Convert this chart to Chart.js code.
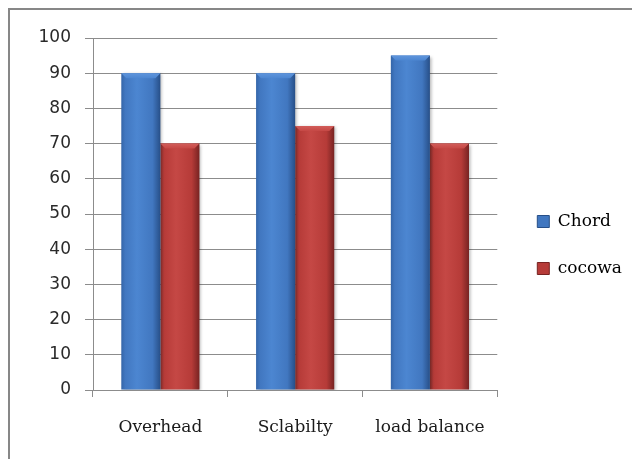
<!DOCTYPE html>
<html>
<head>
<meta charset="utf-8">
<script src="https://cdn.jsdelivr.net/npm/chart.js@4.4.1/dist/chart.umd.min.js"></script>
<style>
  html, body { margin: 0; padding: 0; background: #ffffff; overflow: hidden; }
  #wrap { position: relative; width: 632px; height: 459px; }
  #chart { position: absolute; left: 0; top: 0; }
  #frame { position: absolute; left: 8px; top: 8px; width: 700px; height: 600px;
           border: 2px solid #878787; pointer-events: none; }
</style>
</head>
<body>
<div id="wrap">
  <canvas id="chart" width="632" height="459"></canvas>
  <div id="frame"></div>
</div>
<script>
// Data
const categories = ['Overhead', 'Sclabilty', 'load balance'];
const seriesNames = ['Chord', 'cocowa'];
const chordValues = [90, 90, 95];
const cocowaValues = [70, 75, 70];
const yTicks = [0, 10, 20, 30, 40, 50, 60, 70, 80, 90, 100];

// Bar tones: edge, base, highlight, dark edge, bevel
const tones = [
  { edge: '#3465a8', base: '#4177c0', light: '#4c86d1', dark: '#274f88', bevel: '#5f95dc' },
  { edge: '#983331', base: '#b63b38', light: '#c54845', dark: '#772322', bevel: '#d25d5a' }
];

const gridColor = '#8c8c8c';

// Cylinder-style shading and a top bevel for each bar
const barShading = {
  id: 'barShading',
  beforeDatasetsDraw(chart) {
    const ctx = chart.ctx;
    chart.data.datasets.forEach((ds, i) => {
      const tone = tones[i];
      chart.getDatasetMeta(i).data.forEach(bar => {
        const half = bar.width / 2;
        const g = ctx.createLinearGradient(bar.x - half, 0, bar.x + half, 0);
        g.addColorStop(0, tone.edge);
        g.addColorStop(0.1, tone.base);
        g.addColorStop(0.4, tone.light);
        g.addColorStop(0.8, tone.base);
        g.addColorStop(1, tone.dark);
        bar.options = Object.assign({}, bar.options, { backgroundColor: g });
      });
    });
    ctx.save();
    ctx.shadowColor = 'rgba(0,0,0,0.28)';
    ctx.shadowBlur = 3;
    ctx.shadowOffsetX = 2;
    ctx.shadowOffsetY = 1;
  },
  afterDatasetsDraw(chart) {
    const ctx = chart.ctx;
    ctx.restore();
    chart.data.datasets.forEach((ds, i) => {
      const tone = tones[i];
      chart.getDatasetMeta(i).data.forEach(bar => {
        const half = bar.width / 2;
        const b = 5;
        const top = Math.min(bar.y, bar.base);
        const g = ctx.createLinearGradient(0, top, 0, top + b);
        g.addColorStop(0, tone.bevel);
        g.addColorStop(1, tone.light);
        ctx.save();
        ctx.beginPath();
        ctx.moveTo(bar.x - half, top);
        ctx.lineTo(bar.x + half, top);
        ctx.lineTo(bar.x + half - b, top + b);
        ctx.lineTo(bar.x - half + b, top + b);
        ctx.closePath();
        ctx.fillStyle = g;
        ctx.fill();
        ctx.restore();
      });
    });
  }
};

// Nudge the legend a little to the right of its layout slot
const legendNudge = {
  id: 'legendNudge',
  afterLayout(chart) {
    const lg = chart.legend;
    if (lg) { lg.left += 10; lg.right += 10; }
  }
};

new Chart(document.getElementById('chart'), {
  type: 'bar',
  data: {
    labels: categories,
    datasets: [
      { label: seriesNames[0], data: chordValues, backgroundColor: tones[0].base,
        borderColor: tones[0].dark, borderWidth: 0 },
      { label: seriesNames[1], data: cocowaValues, backgroundColor: tones[1].base,
        borderColor: tones[1].dark, borderWidth: 0 }
    ]
  },
  options: {
    responsive: false,
    animation: false,
    devicePixelRatio: 1,
    datasets: { bar: { categoryPercentage: 0.58, barPercentage: 1.0 } },
    layout: { padding: { top: 38, bottom: 7, left: 0, right: 10 } },
    plugins: {
      tooltip: { enabled: false },
      legend: {
        position: 'right',
        align: 'center',
        maxWidth: 135,
        labels: {
          boxWidth: 12,
          boxHeight: 12,
          padding: 30,
          color: '#1a1a1a',
          font: { family: 'DejaVu Serif', size: 17 },
          generateLabels(chart) {
            return chart.data.datasets.map((ds, i) => ({
              text: ds.label,
              fillStyle: tones[i].base,
              strokeStyle: tones[i].dark,
              lineWidth: 1,
              datasetIndex: i
            }));
          }
        }
      }
    },
    scales: {
      x: {
        offset: true,
        afterFit(scale) { scale.height = 62; },
        grid: { offset: true, drawOnChartArea: false, drawTicks: true, tickLength: 7, color: gridColor },
        border: { display: true, color: gridColor, width: 1 },
        ticks: { color: '#1a1a1a', padding: 20, font: { family: 'DejaVu Serif', size: 17 } }
      },
      y: {
        min: 0,
        max: 100,
        afterFit(scale) { scale.width = 93; },
        afterBuildTicks(scale) { scale.ticks = yTicks.map(v => ({ value: v })); },
        grid: { color: gridColor, tickLength: 8, drawTicks: true },
        border: { display: true, color: gridColor, width: 1 },
        ticks: { color: '#2a2a2a', padding: 14, font: { family: 'DejaVu Sans', size: 17 } }
      }
    }
  },
  plugins: [barShading, legendNudge]
});
</script>
</body>
</html>
